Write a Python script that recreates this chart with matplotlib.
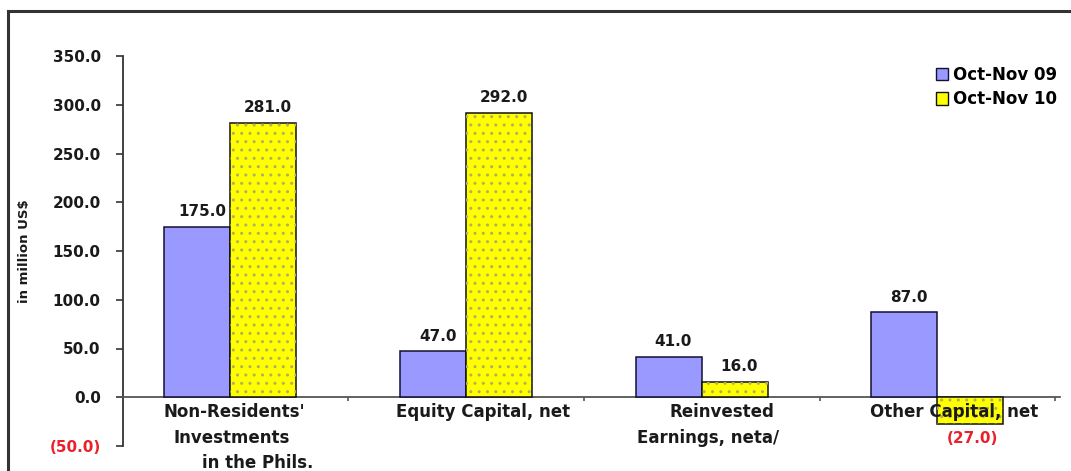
import matplotlib
matplotlib.use("Agg")
import matplotlib.pyplot as plt
from matplotlib.patches import Rectangle
import matplotlib.transforms as mtransforms
import numpy as np

plt.rcParams['font.family'] = ['DejaVu Sans']

categories = ["Non-Residents'\nInvestments\nin the Phils.", "Equity Capital, net",
              "Reinvested\nEarnings, neta/", "Other Capital, net"]
series_names = ["Oct-Nov 09", "Oct-Nov 10"]
oct_nov_09 = [175.0, 47.0, 41.0, 87.0]
oct_nov_10 = [281.0, 292.0, 16.0, -27.0]
yticks = [-50, 0, 50, 100, 150, 200, 250, 300, 350]

BLUE = '#9999FF'
YELLOW = '#FFFF00'
RED = '#E8212B'
TXT = '#1a1a1a'
FS = 11
FSC = 12

fig = plt.figure(figsize=(10.71, 4.71), dpi=100)
ax = fig.add_axes([123/1071, 1-446/471, (1060-123)/1071, (446-56)/471])

x = np.arange(len(categories))
w = 0.28
b1 = ax.bar(x - w/2, oct_nov_09, w, color=BLUE, edgecolor='#111133', linewidth=1.1, zorder=3)
b2 = ax.bar(x + w/2, oct_nov_10, w, color=YELLOW, edgecolor='#111111', linewidth=1.1, zorder=3)
# dotted pattern overlay
ax.bar(x + w/2, oct_nov_10, w, color='none', edgecolor='#b0b060', linewidth=0, hatch='..', zorder=4)

ax.set_xlim(-0.455, 3.52)
ax.set_ylim(-50, 350)

for s in ['top', 'right']:
    ax.spines[s].set_visible(False)
ax.spines['left'].set_color('#333333')
ax.spines['left'].set_linewidth(1.3)
ax.spines['bottom'].set_position(('data', 0))
ax.spines['bottom'].set_color('#555555')
ax.spines['bottom'].set_linewidth(1.3)

ax.set_yticks(yticks)
ax.set_yticklabels([f"({abs(v):.1f})" if v < 0 else f"{v:.1f}" for v in yticks],
                   fontsize=FS, fontweight='bold', color=TXT)
for lbl, v in zip(ax.get_yticklabels(), yticks):
    if v < 0:
        lbl.set_color(RED)
ax.tick_params(axis='y', direction='out', length=5, pad=11, color='#333333', width=1.2)
ax.set_xticks([0.5, 1.5, 2.5, 3.5])
ax.set_xticklabels([])
ax.tick_params(axis='x', direction='out', length=3, color='#555555', width=1.2)

ax.set_ylabel("in million US$", fontsize=9.5, fontweight='bold', color=TXT, labelpad=13)

def fmt(v):
    return f"({abs(v):.1f})" if v < 0 else f"{v:.1f}"

for bars, vals in ((b1, oct_nov_09), (b2, oct_nov_10)):
    for r, v in zip(bars, vals):
        cx = r.get_x() + r.get_width()/2
        if v >= 0:
            ax.annotate(fmt(v), (cx + 0.02, v), xytext=(0, 11), textcoords='offset points',
                        ha='center', va='center', fontsize=FS, fontweight='bold', color=TXT, zorder=6)
        else:
            ax.annotate(fmt(v), (cx + 0.01, v), xytext=(0, -11), textcoords='offset points',
                        ha='center', va='center', fontsize=FS, fontweight='bold', color=RED, zorder=6)

# category labels
trans = mtransforms.blended_transform_factory(ax.transData, fig.transFigure)
def ypix(p):
    return 1 - p/471
label_specs = [
    [("Non-Residents'", 0.017, 412), ("Investments", 0.004, 438), ("in the Phils.", 0.115, 463)],
    [("Equity Capital, net", 0.073, 412)],
    [("Reinvested", 0.086, 412), ("Earnings, neta/", 0.027, 438)],
    [("Other Capital, net", 0.07, 412)],
]
for i, spec in enumerate(label_specs):
    for txt, dx, yp in spec:
        ax.text(i + dx, ypix(yp), txt, transform=trans, ha='center', va='center',
                fontsize=FSC, fontweight='bold', color=TXT, zorder=5)

# legend
handles = [Rectangle((0, 0), 1, 1, facecolor=BLUE, edgecolor='#111133', linewidth=1.0),
           Rectangle((0, 0), 1, 1, facecolor=YELLOW, edgecolor='#111111', linewidth=1.0)]
leg = fig.legend(handles, series_names, loc='upper left', bbox_to_anchor=(929/1071, 1-59/471),
                 frameon=False, prop={'weight': 'bold', 'size': FSC}, handlelength=0.75,
                 handleheight=0.75, handletextpad=0.3, labelspacing=0.4, borderaxespad=0)

# outer frame
fig.patches.append(Rectangle((7.5/1071, -0.2), 1.2, 1.2 - 11/471, transform=fig.transFigure,
                             fill=False, edgecolor='#333333', linewidth=2.2))

fig.savefig("out.png", dpi=100)
